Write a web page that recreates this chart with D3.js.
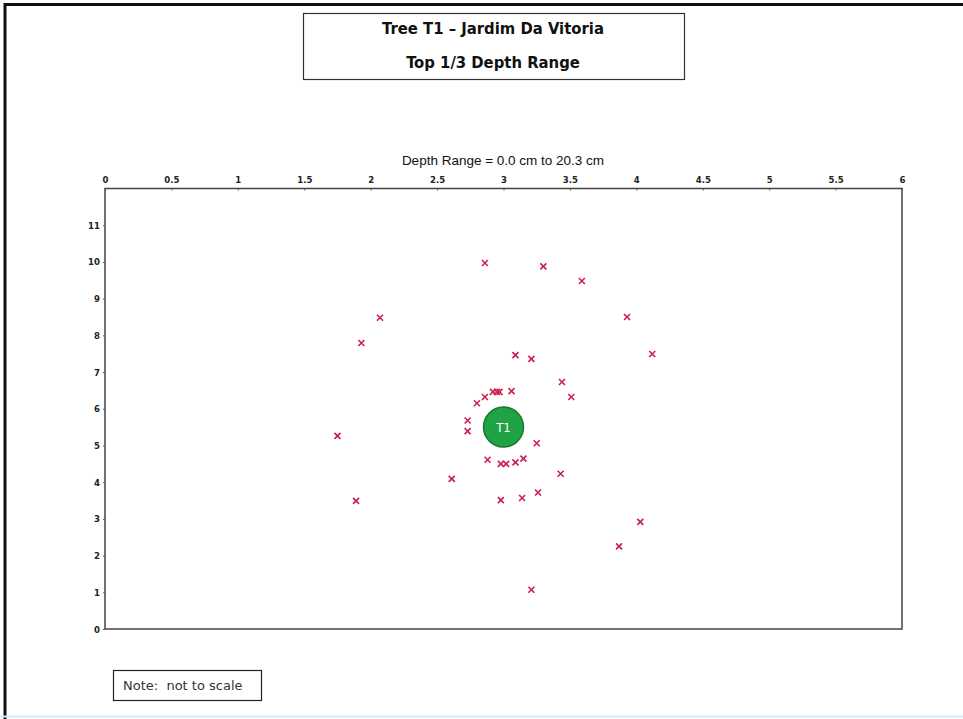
<!DOCTYPE html>
<html><head><meta charset="utf-8">
<script src="https://cdn.jsdelivr.net/npm/d3@7"></script>
<style>body{margin:0;background:#fff;}svg{display:block;}text{white-space:pre;}</style>
</head><body>
<script>
const titleLines = ["Tree T1 \u2013 Jardim Da Vitoria", "Top 1/3 Depth Range"];
const subtitle = "Depth Range = 0.0 cm to 20.3 cm";
const noteText = "Note:  not to scale";
const xTicks = [0, 0.5, 1, 1.5, 2, 2.5, 3, 3.5, 4, 4.5, 5, 5.5, 6];
const yTicks = [0, 1, 2, 3, 4, 5, 6, 7, 8, 9, 10, 11];
const pointX = [2.86, 3.30, 3.59, 2.07, 3.93, 1.93, 4.12, 3.09, 3.21, 3.44, 3.51,
  2.92, 2.95, 2.97, 3.06, 2.86, 2.80, 2.73, 2.73, 1.75, 3.25, 2.88, 2.98, 3.02,
  3.09, 3.15, 3.43, 2.61, 2.98, 3.26, 3.14, 1.89, 4.03, 3.87, 3.21];
const pointY = [9.97, 9.88, 9.48, 8.48, 8.50, 7.79, 7.49, 7.46, 7.36, 6.73, 6.32,
  6.46, 6.46, 6.46, 6.48, 6.32, 6.15, 5.68, 5.39, 5.26, 5.06, 4.61, 4.50, 4.50,
  4.54, 4.64, 4.23, 4.09, 3.51, 3.72, 3.57, 3.49, 2.92, 2.25, 1.07];
const treeX = [3.0], treeY = [5.5], treeLabel = ["T1"];

const W = 963, H = 719;
const svg = d3.select("body").append("svg").attr("width", W).attr("height", H);

// outer frame
svg.append("line").attr("x1", 4).attr("x2", W).attr("y1", 4.5).attr("y2", 4.5).attr("stroke", "#111").attr("stroke-width", 3);
svg.append("line").attr("x1", 5).attr("x2", 5).attr("y1", 3).attr("y2", H).attr("stroke", "#111").attr("stroke-width", 3);
svg.append("line").attr("x1", 0).attr("x2", W).attr("y1", 716.5).attr("y2", 716.5).attr("stroke", "#c6f1f8").attr("stroke-width", 2);

// title box
svg.append("rect").attr("x", 303.5).attr("y", 13.5).attr("width", 381).attr("height", 66).attr("fill", "#fff").attr("stroke", "#333").attr("stroke-width", 1.2);
svg.selectAll(".title").data(titleLines).enter().append("text")
  .attr("x", 493).attr("y", (d, i) => 34 + i * 34).attr("text-anchor", "middle")
  .attr("font-family", "'DejaVu Sans Condensed', 'Liberation Sans Narrow', sans-serif").attr("font-weight", "bold")
  .attr("font-size", 16.5).attr("fill", "#111").text(d => d);

const x = d3.scaleLinear().domain([0, 6]).range([105, 902]);
const y = d3.scaleLinear().domain([0, 12]).range([629, 188.5]);

svg.append("text").attr("x", 503).attr("y", 165).attr("text-anchor", "middle")
  .attr("font-family", "'Liberation Sans', Arial, sans-serif").attr("font-size", 13.5).attr("fill", "#111").text(subtitle);

// plot frame
svg.append("rect").attr("x", x(0)).attr("y", y(12)).attr("width", x(6) - x(0)).attr("height", y(0) - y(12))
  .attr("fill", "none").attr("stroke", "#444").attr("stroke-width", 1.5);

const tickFont = "'DejaVu Sans Condensed', 'Liberation Sans Narrow', sans-serif";
const xAxis = svg.append("g").attr("transform", `translate(0,${y(12)})`)
  .call(d3.axisTop(x).tickValues(xTicks).tickSize(-2).tickPadding(6).tickFormat(d3.format("")));
xAxis.select(".domain").remove();
xAxis.selectAll("text").attr("font-family", tickFont).attr("font-weight", "bold").attr("font-size", 9.5).attr("fill", "#222");
xAxis.selectAll("line").attr("stroke", "#555");

const yAxis = svg.append("g").attr("transform", `translate(${x(0)},0)`)
  .call(d3.axisLeft(y).tickValues(yTicks).tickSize(2).tickPadding(3).tickFormat(d3.format("")));
yAxis.select(".domain").remove();
yAxis.selectAll("text").attr("font-family", tickFont).attr("font-weight", "bold").attr("font-size", 9.5).attr("fill", "#222");
yAxis.selectAll("line").attr("stroke", "#555");

// points as x markers
const pts = pointX.map((v, i) => [v, pointY[i]]);
const s = 3;
svg.append("g").selectAll("path").data(pts).enter().append("path")
  .attr("d", d => {
    const cx = x(d[0]), cy = y(d[1]);
    return `M${cx - s},${cy - s}L${cx + s},${cy + s}M${cx - s},${cy + s}L${cx + s},${cy - s}`;
  })
  .attr("stroke", "#cc1f4e").attr("stroke-width", 1.6).attr("fill", "none");

// tree
const tree = svg.append("g").selectAll("g").data(treeX.map((v, i) => ({ x: v, y: treeY[i], l: treeLabel[i] }))).enter().append("g");
tree.append("circle").attr("cx", d => x(d.x)).attr("cy", d => y(d.y)).attr("r", 20)
  .attr("fill", "#1fa346").attr("stroke", "#15782f").attr("stroke-width", 1.5);
tree.append("text").attr("x", d => x(d.x)).attr("y", d => y(d.y) + 5).attr("text-anchor", "middle")
  .attr("font-family", "'DejaVu Sans Condensed', sans-serif").attr("font-size", 13).attr("fill", "#fff").text(d => d.l);

// note box
svg.append("rect").attr("x", 113.5).attr("y", 670.5).attr("width", 148).attr("height", 30).attr("fill", "#fff").attr("stroke", "#222").attr("stroke-width", 1.2);
svg.append("text").attr("x", 123).attr("y", 690).attr("font-family", "'DejaVu Sans', Verdana, sans-serif").attr("font-size", 13).attr("fill", "#333").text(noteText);
</script>
</body></html>
